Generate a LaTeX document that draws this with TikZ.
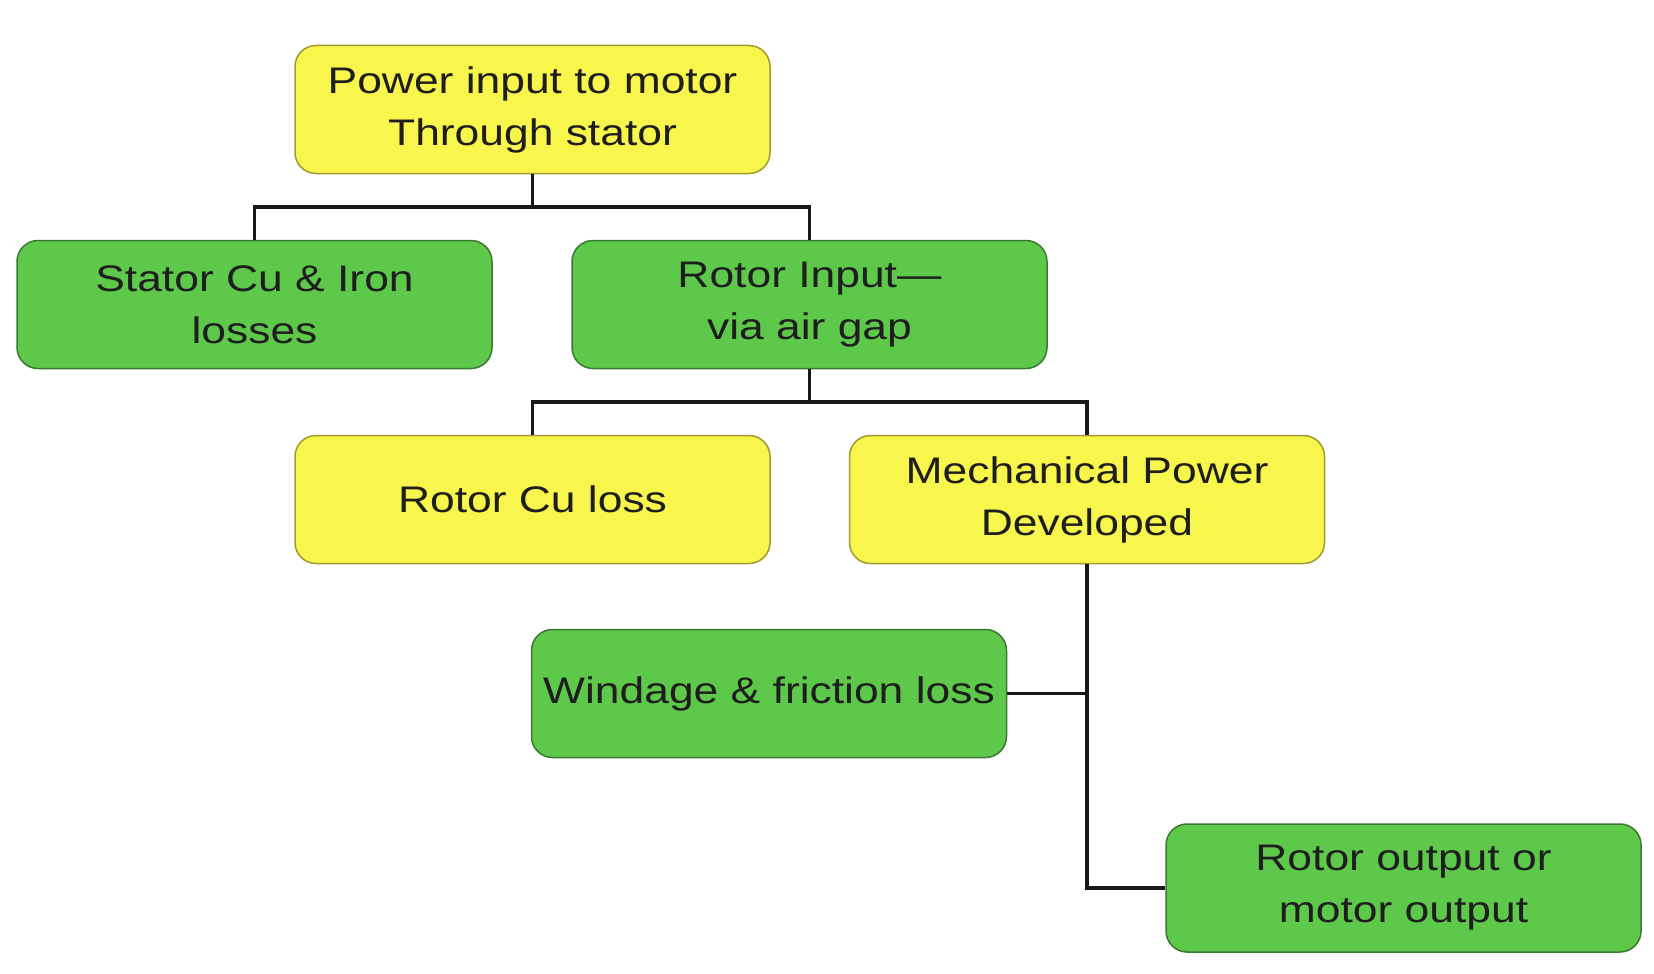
\documentclass[tikz,border=0pt]{standalone}
\usepackage{fontspec}
\setmainfont{Liberation Sans}[FakeStretch=1.2]
\definecolor{ybox}{HTML}{F8F54C}
\definecolor{yline}{HTML}{A09A30}
\definecolor{gbox}{HTML}{5EC84B}
\definecolor{gline}{HTML}{3A7A32}
\definecolor{txt}{HTML}{1E1E1E}
\begin{document}
\begin{tikzpicture}[x=1pt,y=-1pt,
  box/.style={rectangle, rounded corners=21pt, minimum width=475pt, minimum height=128pt,
    inner sep=0pt, align=center, text=txt, line width=1.5pt,
    font=\fontsize{37}{52}\selectfont},
  ybx/.style={box, fill=ybox, draw=yline},
  gbx/.style={box, fill=gbox, draw=gline},
  conn/.style={line width=3.5pt, draw=black!90}]
\useasboundingbox (0,0) rectangle (1654,974);
\node[ybx] (pin) at (532.5,109.5) {Power input to motor\\Through stator};
\node[gbx] (stat) at (254.5,304.5) {Stator Cu \& Iron\\losses};
\node[gbx] (rin) at (809.5,304.5) {Rotor Input---\\via air gap};
\node[ybx] (rcu) at (532.5,499.5) {Rotor Cu loss};
\node[ybx] (mech) at (1087,499.5) {Mechanical Power\\Developed};
\node[gbx] (wind) at (769,693.5) {Windage \& friction loss};
\node[gbx] (rout) at (1403.5,888) {Rotor output or\\motor output};
\coordinate (j1) at (532.5,207);
\coordinate (j2) at (809.5,402);
\draw[conn] (pin.south) -- (j1);
\draw[conn] (stat.north) |- (j1) -| (rin.north);
\draw[conn] (rin.south) -- (j2);
\draw[conn] (rcu.north) |- (j2) -| (mech.north);
\draw[conn] (mech.south) |- (rout.west);
\draw[conn] (wind.east) -- (wind.east -| mech.south);
\end{tikzpicture}
\end{document}
